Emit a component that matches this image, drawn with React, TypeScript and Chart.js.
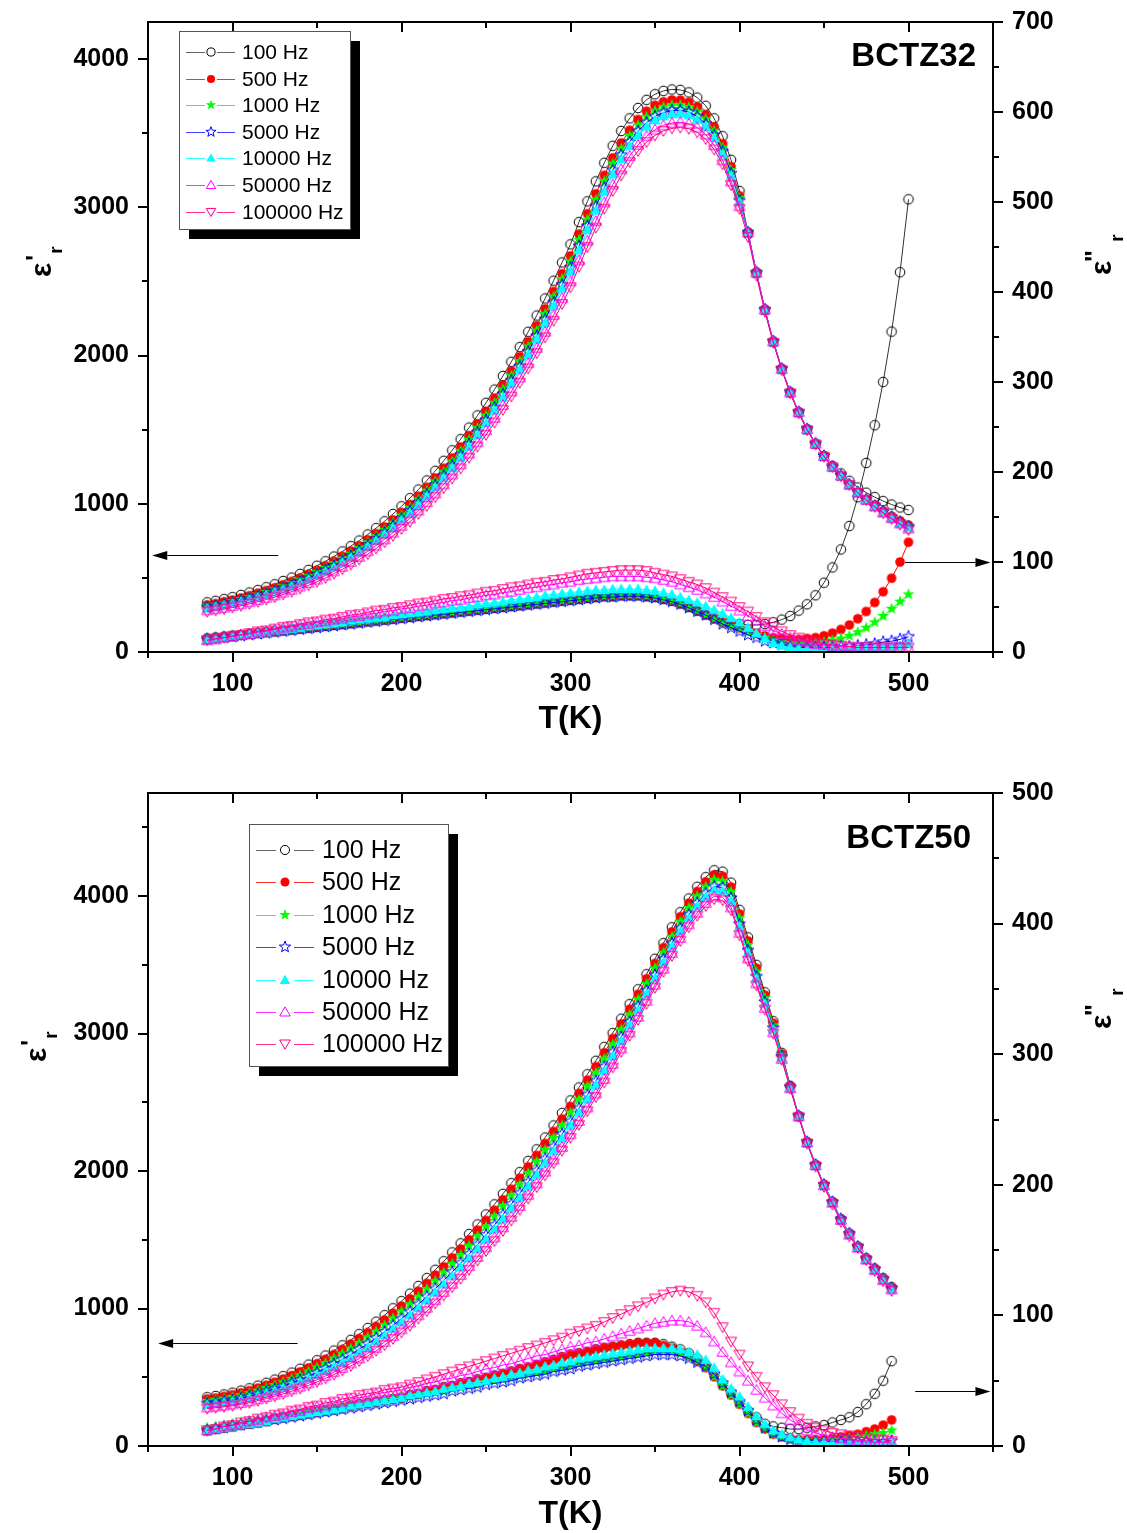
import React, { useEffect, useRef } from 'react';
import { Chart, registerables } from 'chart.js';
Chart.register(...registerables);

const FONT = '"Liberation Sans", Arial, Helvetica, sans-serif';

// ---------------- DATA ----------------
const FREQ_LABELS = ['100 Hz', '500 Hz', '1000 Hz', '5000 Hz', '10000 Hz', '50000 Hz', '100000 Hz'];

const T_TOP = [85,90,95,100,105,110,115,120,125,130,135,140,145,150,155,160,165,170,175,180,185,190,195,200,205,210,215,220,225,230,235,240,245,250,255,260,265,270,275,280,285,290,295,300,305,310,315,320,325,330,335,340,345,350,355,360,365,370,375,380,385,390,395,400,405,410,415,420,425,430,435,440,445,450,455,460,465,470,475,480,485,490,495,500];

// BCTZ32  eps' (left axis)
const TOP_E1_100 = [335,345,357,370,385,401,418,437,457,479,502,527,554,582,612,644,678,714,752,793,836,882,931,983,1038,1096,1157,1222,1290,1361,1436,1514,1596,1681,1770,1862,1958,2057,2160,2270,2385,2505,2628,2750,2900,3040,3175,3300,3415,3515,3600,3670,3725,3763,3785,3795,3792,3775,3740,3685,3600,3480,3320,3110,2830,2560,2310,2095,1910,1752,1618,1503,1405,1322,1255,1205,1155,1110,1075,1045,1018,995,975,958];
const TOP_E1_500 = [318,327,339,351,365,380,397,415,434,454,476,500,526,553,582,613,646,681,717,757,799,844,891,942,995,1051,1111,1174,1240,1309,1383,1459,1539,1623,1710,1800,1895,1992,2093,2201,2314,2432,2552,2672,2819,2957,3091,3216,3333,3434,3520,3592,3648,3688,3712,3724,3723,3709,3677,3624,3543,3429,3274,3078,2830,2560,2310,2095,1910,1752,1618,1503,1405,1322,1250,1190,1130,1077,1030,990,952,917,885,856];
const TOP_E1_1K = [310,319,330,342,356,371,386,404,422,443,464,487,512,539,567,598,630,664,701,740,781,825,872,922,974,1030,1089,1151,1216,1285,1357,1432,1512,1595,1681,1771,1864,1961,2061,2168,2280,2397,2516,2634,2780,2917,3050,3176,3293,3395,3482,3554,3611,3652,3677,3690,3690,3677,3646,3595,3516,3404,3252,3062,2830,2560,2310,2095,1910,1752,1618,1503,1405,1322,1250,1190,1130,1077,1029,987,949,913,880,850];
const TOP_E1_5K = [301,310,321,332,346,360,375,392,410,430,451,474,498,524,552,581,613,647,683,721,762,805,852,900,952,1007,1065,1126,1190,1258,1329,1404,1483,1564,1650,1739,1832,1927,2027,2133,2244,2359,2477,2593,2738,2874,3007,3133,3250,3353,3441,3513,3571,3613,3639,3653,3655,3643,3613,3563,3487,3377,3228,3045,2830,2560,2310,2095,1910,1752,1618,1503,1405,1322,1250,1190,1130,1077,1028,985,946,909,875,845];
const TOP_E1_10K = [295,304,315,326,339,353,368,385,402,422,442,465,488,514,541,571,602,636,671,709,750,793,838,887,938,992,1049,1110,1173,1241,1311,1385,1464,1545,1630,1718,1811,1906,2004,2110,2220,2335,2452,2567,2711,2846,2978,3105,3223,3326,3414,3487,3545,3588,3615,3629,3632,3621,3592,3543,3468,3360,3213,3034,2830,2560,2310,2095,1910,1752,1618,1503,1405,1322,1250,1190,1130,1077,1027,984,944,907,872,841];
const TOP_E1_50K = [281,289,299,310,322,336,350,366,382,401,420,442,465,489,516,544,575,607,642,679,718,760,805,851,901,954,1010,1069,1131,1197,1266,1339,1415,1495,1579,1666,1757,1851,1948,2052,2160,2273,2387,2501,2642,2775,2907,3033,3153,3257,3346,3421,3480,3524,3553,3569,3574,3564,3538,3491,3419,3317,3174,3007,2830,2560,2310,2095,1910,1752,1618,1503,1405,1322,1250,1190,1130,1077,1027,982,941,903,867,832];
const TOP_E1_100K = [272,280,290,300,312,325,339,354,370,388,407,428,450,474,500,528,558,590,624,660,699,740,784,830,879,931,986,1044,1105,1170,1238,1310,1386,1465,1548,1634,1724,1817,1913,2016,2123,2235,2348,2460,2600,2732,2863,2990,3110,3215,3305,3380,3440,3485,3515,3532,3538,3530,3505,3460,3390,3290,3150,2990,2800,2540,2295,2085,1900,1745,1610,1497,1400,1318,1246,1185,1126,1073,1024,978,936,897,859,823];

// BCTZ32  eps'' (right axis)
const TOP_E2_100 = [15,16,17,18,19,20,21,22,23,24,25,26,27,28,29,30,31,32,33,34,35,36,37,38,39,40,41,42,43,44,45,46,47,48,49,50,51,52,53,54,55,56,57,58,59,60,61,62,62,63,63,63,62,61,59,57,54,50,46,42,38,35,33,31,30,30,31,33,36,40,46,53,63,77,94,114,140,172,210,252,300,356,422,503];
const TOP_E2_500 = [15,16,17,18,19,20,21,22,23,24,25,26,27,28,29,30,31,32,33,34,35,36,37,38,39,40,41,42,43,44,45,46,47,48,49,50,51,52,53,54,55,56,57,58,59,60,61,62,62,63,63,63,62,61,59,57,54,50,46,41,37,33,30,27,24,21,18,16,15,14,14,15,16,18,21,25,30,37,45,55,67,82,100,122];
const TOP_E2_1K = [15,16,17,18,19,20,21,22,23,24,25,26,27,28,29,30,31,32,33,34,35,36,37,38,39,40,41,42,43,44,45,46,47,48,49,50,51,52,53,54,55,56,57,58,59,60,61,62,62,63,63,63,62,61,59,57,54,50,46,41,37,33,29,26,22,19,16,13,11,10,9,9,10,11,13,15,18,22,27,33,40,48,56,64];
const TOP_E2_5K = [14,15,16,17,18,19,20,21,22,23,24,25,26,27,28,29,30,31,32,33,34,35,36,37,38,39,40,41,42,43,44,45,46,47,48,49,50,51,52,53,54,55,56,57,58,59,60,61,61,62,62,62,61,60,58,56,53,49,45,41,36,31,27,23,19,16,12,10,8,6,5,5,5,5,5,6,6,7,8,9,11,12,14,17];
const TOP_E2_10K = [14,15,16,18,19,20,21,22,24,25,26,27,29,30,31,32,33,35,36,37,38,39,41,42,43,44,45,47,48,49,50,51,53,54,55,56,58,59,60,61,63,64,65,66,67,68,69,69,70,70,70,70,69,68,66,64,61,58,55,51,47,43,38,33,27,21,15,10,7,5,4,3,3,3,3,3,3,3,4,4,5,6,7,9];
const TOP_E2_50K = [13,14,16,17,19,20,22,23,25,27,28,30,31,33,34,36,37,39,40,42,43,45,46,48,49,51,52,54,55,57,58,60,61,63,64,66,67,69,71,72,74,75,77,78,80,81,82,83,84,84,84,84,83,82,80,78,75,72,69,65,61,56,51,46,40,35,29,24,20,16,13,11,9,8,7,6,6,5,5,5,5,5,5,5];
const TOP_E2_100K = [13,15,16,18,19,21,23,24,26,28,29,31,33,34,36,37,39,41,42,44,46,47,49,50,52,54,55,57,59,60,62,63,65,67,68,70,72,73,75,77,78,80,81,83,85,87,88,89,90,91,91,91,90,88,86,84,81,78,75,71,66,61,56,50,45,39,33,28,23,19,16,13,11,9,8,7,6,5,5,5,5,5,5,5];

const T_BOT = [85,90,95,100,105,110,115,120,125,130,135,140,145,150,155,160,165,170,175,180,185,190,195,200,205,210,215,220,225,230,235,240,245,250,255,260,265,270,275,280,285,290,295,300,305,310,315,320,325,330,335,340,345,350,355,360,365,370,375,380,385,390,395,400,405,410,415,420,425,430,435,440,445,450,455,460,465,470,475,480,485,490];

// BCTZ50  eps' (left axis)
const BOT_E1_100 = [355,364,375,388,403,420,439,460,483,508,534,562,592,624,658,694,732,772,814,858,904,952,1002,1054,1108,1164,1222,1282,1344,1408,1474,1542,1612,1684,1758,1834,1912,1992,2074,2158,2244,2332,2422,2514,2608,2704,2802,2902,3004,3108,3214,3322,3432,3544,3658,3773,3883,3983,4068,4138,4188,4178,4098,3900,3700,3500,3300,3090,2860,2620,2400,2210,2045,1900,1775,1650,1545,1450,1365,1290,1220,1155];
const BOT_E1_500 = [342,350,361,373,387,403,421,442,464,487,512,539,568,599,631,666,703,742,782,825,870,917,966,1018,1071,1126,1183,1243,1304,1368,1433,1500,1570,1641,1715,1791,1868,1948,2030,2114,2200,2288,2378,2470,2565,2661,2760,2861,2964,3070,3177,3286,3398,3510,3625,3740,3850,3949,4034,4104,4154,4145,4066,3870,3673,3476,3280,3076,2852,2617,2400,2210,2045,1900,1775,1650,1545,1450,1364,1289,1218,1152];
const BOT_E1_1K = [328,336,345,357,370,385,403,422,443,465,489,514,542,572,603,637,672,709,749,791,834,880,928,979,1031,1086,1142,1201,1262,1325,1389,1456,1525,1596,1670,1745,1822,1902,1984,2067,2153,2241,2332,2424,2519,2616,2715,2817,2921,3029,3138,3249,3361,3475,3589,3704,3814,3914,3999,4069,4119,4109,4032,3839,3644,3450,3259,3060,2843,2613,2400,2210,2045,1900,1775,1650,1545,1450,1363,1288,1217,1150];
const BOT_E1_5K = [309,316,325,335,347,361,377,396,415,436,458,481,507,536,565,597,630,666,704,744,786,830,877,926,978,1031,1087,1145,1205,1266,1330,1396,1465,1535,1608,1683,1760,1839,1921,2004,2090,2178,2269,2361,2456,2554,2654,2758,2864,2974,3085,3198,3312,3426,3542,3657,3766,3865,3950,4020,4070,4062,3986,3796,3605,3416,3230,3040,2832,2609,2400,2210,2045,1900,1775,1650,1545,1449,1362,1287,1215,1148];
const BOT_E1_10K = [299,306,315,324,336,350,365,383,402,422,443,466,491,518,547,577,610,645,682,721,763,806,853,901,952,1005,1061,1118,1177,1238,1302,1368,1436,1506,1578,1653,1730,1809,1890,1974,2060,2148,2238,2331,2426,2524,2625,2729,2836,2947,3060,3173,3288,3403,3519,3634,3743,3842,3927,3997,4047,4039,3964,3776,3586,3399,3216,3030,2826,2607,2400,2210,2045,1900,1775,1650,1544,1448,1360,1285,1213,1145];
const BOT_E1_50K = [280,287,294,302,313,325,340,356,374,392,412,432,456,482,509,537,568,601,637,674,714,756,801,849,898,951,1005,1061,1120,1180,1243,1308,1375,1445,1517,1591,1667,1746,1827,1910,1996,2084,2175,2268,2364,2463,2564,2670,2779,2892,3007,3122,3238,3355,3471,3586,3695,3794,3879,3949,3999,3991,3918,3733,3547,3365,3187,3009,2815,2602,2398,2207,2042,1896,1770,1644,1538,1443,1356,1279,1206,1138];
const BOT_E1_100K = [272,278,285,293,303,315,329,345,362,379,398,418,441,466,492,520,550,582,617,654,693,734,779,826,875,927,981,1037,1095,1155,1217,1282,1349,1418,1490,1564,1640,1719,1800,1883,1969,2057,2148,2241,2337,2436,2538,2644,2754,2868,2984,3100,3217,3334,3450,3565,3674,3773,3858,3928,3978,3970,3898,3715,3530,3350,3175,3000,2810,2600,2395,2200,2033,1885,1757,1630,1525,1440,1352,1272,1198,1128];

// BCTZ50  eps'' (right axis)
const BOT_E2_100 = [12,13,14,15,16,17,18,19,21,22,23,24,25,26,27,28,29,31,32,33,34,35,36,37,39,40,42,43,45,46,48,49,51,52,54,55,57,59,60,62,64,66,68,70,71,72,74,75,76,77,78,79,79,79,78,76,74,71,67,62,55,48,41,34,27,22,17,15,14,13,13,14,15,16,18,20,22,26,32,40,50,65];
const BOT_E2_500 = [12,13,14,15,16,17,18,19,21,22,23,24,25,26,27,28,29,31,32,33,34,35,36,37,39,40,42,43,45,46,48,49,51,52,54,55,57,59,60,62,64,66,68,70,71,72,74,75,76,77,78,79,79,79,77,75,72,69,65,60,53,46,39,32,25,18,13,9,7,6,5,5,5,5,6,7,8,9,11,13,16,20];
const BOT_E2_1K = [14,15,16,17,18,19,20,21,22,23,24,25,26,27,28,29,30,31,32,33,34,35,36,37,38,39,40,41,42,44,45,46,47,49,50,51,52,54,55,56,57,59,60,61,63,64,65,66,67,68,69,70,71,72,72,72,71,68,65,60,53,46,39,32,25,18,13,9,7,5,5,4,4,4,5,5,6,7,8,9,10,12];
const BOT_E2_5K = [12,13,14,15,16,17,18,19,20,21,22,23,24,25,26,27,28,29,30,31,32,33,34,35,36,37,38,39,40,42,43,44,45,47,48,49,50,52,53,54,55,57,58,59,61,62,63,64,65,66,67,68,69,70,70,70,69,67,64,61,55,48,41,34,27,20,14,10,7,5,4,3,3,3,3,3,3,3,3,3,3,4];
const BOT_E2_10K = [12,13,14,15,16,17,18,19,21,22,23,24,25,26,27,28,29,31,32,33,34,35,36,37,39,40,41,42,44,45,46,48,49,50,52,53,55,56,58,59,61,62,64,65,67,68,69,70,71,72,73,74,75,75,75,75,74,72,70,66,60,51,44,38,30,23,17,12,9,7,5,4,3,3,2,2,2,2,2,2,2,2];
const BOT_E2_50K = [12,13,15,16,17,19,20,22,23,24,26,27,29,30,31,33,34,36,37,38,40,41,42,43,45,46,48,49,51,52,54,55,57,59,60,62,63,65,67,69,70,72,74,76,77,79,80,82,84,86,88,90,92,94,95,96,96,95,92,87,80,72,64,57,50,43,37,31,25,20,16,12,10,8,7,6,5,4,4,3,3,3];
const BOT_E2_100K = [12,13,15,16,18,19,21,22,24,25,27,28,30,31,33,34,36,37,39,40,41,43,44,45,47,49,51,53,55,57,59,61,63,65,67,69,71,73,75,77,79,81,83,86,88,90,92,95,98,101,104,107,110,113,116,118,119,118,115,110,102,91,80,70,61,53,45,39,32,26,21,17,14,12,10,9,8,7,6,5,5,4];

// ---------------- STYLE ----------------
const COLORS = ['#000000', '#ff0000', '#00ff00', '#0000ff', '#00ffff', '#ff00ff', '#ff0080'];
const LINE_COLORS = ['#333333', '#ff0000', '#00ff00', '#0000ff', '#00ffff', '#ff00ff', '#ff0080'];
const LEGEND_LINE_COLORS = ['#666666', '#ff3030', '#30ff30', '#4040ff', '#30ffff', '#ff30ff', '#ff3090'];
type Kind = 'circleOpen' | 'circleFill' | 'starFill' | 'starOpen' | 'triFill' | 'triOpen' | 'triDownOpen';
const KINDS: Kind[] = ['circleOpen', 'circleFill', 'starFill', 'starOpen', 'triFill', 'triOpen', 'triDownOpen'];

function makeMarker(kind: Kind, color: string, sc = 1): HTMLCanvasElement {
  const s = 18;
  const c = document.createElement('canvas');
  c.width = s; c.height = s;
  const ctx = c.getContext('2d')!;
  ctx.translate(s / 2, s / 2);
  ctx.strokeStyle = color; ctx.fillStyle = color; ctx.lineWidth = 1;
  ctx.beginPath();
  if (kind.startsWith('circle')) {
    ctx.arc(0, 0, 4.8 * sc, 0, Math.PI * 2);
  } else if (kind.startsWith('star')) {
    const R = 6.3 * sc, r = 2.6 * sc;
    for (let i = 0; i < 10; i++) {
      const a = -Math.PI / 2 + (i * Math.PI) / 5;
      const rr = i % 2 ? r : R;
      const x = rr * Math.cos(a), y = rr * Math.sin(a);
      if (i) ctx.lineTo(x, y); else ctx.moveTo(x, y);
    }
    ctx.closePath();
  } else if (kind === 'triDownOpen') {
    ctx.moveTo(-5.6 * sc, -4.2 * sc); ctx.lineTo(5.6 * sc, -4.2 * sc); ctx.lineTo(0, 5.4 * sc); ctx.closePath();
  } else {
    ctx.moveTo(0, -5.4 * sc); ctx.lineTo(5.6 * sc, 4.2 * sc); ctx.lineTo(-5.6 * sc, 4.2 * sc); ctx.closePath();
  }
  if (kind.endsWith('Fill')) ctx.fill(); else ctx.stroke();
  return c;
}

interface PanelCfg {
  top: number; height: number; padTop: number; xHeight: number;
  T: number[]; e1: number[][]; e2: number[][];
  yMax: number; yTicks: number[]; yMinorMax: number;
  y1Max: number; y1Ticks: number[];
  legend: { x: number; y: number; w: number; h: number; row0: number; dy: number; lx1: number; lx2: number; mx: number; gap: number; tx: number; font: number; msc: number };
  title: { text: string; x: number; y: number };
  xTitleY: number;
  epsL: [number, number]; epsR: [number, number];
  arrowL: { x1: number; x2: number; y: number };
  arrowR: { x1: number; x2: number; y: number };
}

function drawEps(ctx: CanvasRenderingContext2D, cx: number, cy: number, primes: string, pOff: [number, number], rOff: [number, number]) {
  ctx.save();
  ctx.translate(cx, cy);
  ctx.rotate(-Math.PI / 2);
  ctx.fillStyle = '#000';
  ctx.textAlign = 'center';
  ctx.textBaseline = 'alphabetic';
  ctx.font = `bold 30px ${FONT}`;
  ctx.fillText('ε', 0, 8);
  ctx.font = `bold 26px ${FONT}`;
  ctx.fillText(primes, pOff[0], pOff[1]);
  ctx.font = `bold 19px ${FONT}`;
  ctx.fillText('r', rOff[0], rOff[1]);
  ctx.restore();
}

function drawArrow(ctx: CanvasRenderingContext2D, x1: number, x2: number, y: number) {
  const dir = Math.sign(x2 - x1);
  const head = 15, hw = 4.5;
  ctx.beginPath();
  ctx.moveTo(x1, y); ctx.lineTo(x2 - dir * head, y);
  ctx.stroke();
  ctx.beginPath();
  ctx.moveTo(x2, y); ctx.lineTo(x2 - dir * head, y - hw); ctx.lineTo(x2 - dir * head, y + hw); ctx.closePath();
  ctx.fill();
}

function Panel({ cfg }: { cfg: PanelCfg }) {
  const ref = useRef<HTMLCanvasElement>(null);
  useEffect(() => {
    const markers = KINDS.map((k, i) => makeMarker(k, COLORS[i]));
    const legendMarkers = KINDS.map((k, i) => makeMarker(k, COLORS[i], cfg.legend.msc));
    const datasets: any[] = [];
    cfg.e2.forEach((vals, i) => {
      datasets.push({
        label: FREQ_LABELS[i] + " e''",
        data: cfg.T.map((t, k) => ({ x: t, y: vals[k] })),
        yAxisID: 'y1', borderColor: LINE_COLORS[i], backgroundColor: COLORS[i], borderWidth: 1,
        pointStyle: markers[i], pointRadius: 5, order: 20 - i, tension: 0,
      });
    });
    cfg.e1.forEach((vals, i) => {
      datasets.push({
        label: FREQ_LABELS[i] + " e'",
        data: cfg.T.map((t, k) => ({ x: t, y: vals[k] })),
        yAxisID: 'y', borderColor: LINE_COLORS[i], backgroundColor: COLORS[i], borderWidth: 1,
        pointStyle: markers[i], pointRadius: 5, order: 10 - i, tension: 0,
      });
    });

    const tickFont = { family: FONT, size: 25, weight: 'bold' as const };
    const zeroPad = (s: any) => { s.paddingTop = 0; s.paddingBottom = 0; s.paddingLeft = 0; s.paddingRight = 0; };
    const deco = {
      id: 'deco',
      afterDraw(chart: any) {
        const { ctx, chartArea: ca, scales } = chart;
        const xs = scales.x, ys = scales.y, y1 = scales.y1;
        ctx.save();
        ctx.strokeStyle = '#000'; ctx.fillStyle = '#000'; ctx.lineWidth = 2;
        ctx.strokeRect(ca.left, ca.top, ca.right - ca.left, ca.bottom - ca.top);
        const line = (a: number, b: number, c: number, d: number) => { ctx.beginPath(); ctx.moveTo(a, b); ctx.lineTo(c, d); ctx.stroke(); };
        for (let v = 50; v <= 550; v += 50) {
          const px = Math.round(xs.getPixelForValue(v));
          const L = v % 100 === 0 ? 10 : 6;
          line(px, ca.bottom, px, ca.bottom + L);
          if (v > 50 && v < 550) line(px, ca.top, px, ca.top + L);
        }
        for (let v = 0; v <= cfg.yMinorMax; v += 500) {
          const py = Math.round(ys.getPixelForValue(v));
          const L = v % 1000 === 0 ? 10 : 6;
          line(ca.left - L, py, ca.left, py);
        }
        for (let v = 0; v <= cfg.y1Max; v += 50) {
          const py = Math.round(y1.getPixelForValue(v));
          const L = v % 100 === 0 ? 10 : 6;
          line(ca.right, py, ca.right + L, py);
        }
        // arrows
        ctx.lineWidth = 1;
        const al = cfg.arrowL, ar = cfg.arrowR;
        drawArrow(ctx, xs.getPixelForValue(al.x1), xs.getPixelForValue(al.x2), Math.round(ys.getPixelForValue(al.y)) + 0.5);
        drawArrow(ctx, xs.getPixelForValue(ar.x1), xs.getPixelForValue(ar.x2), Math.round(y1.getPixelForValue(ar.y)) + 0.5);
        // legend
        const L = cfg.legend;
        ctx.fillStyle = '#000';
        ctx.fillRect(L.x + 10, L.y + 10, L.w, L.h);
        ctx.fillStyle = '#fff';
        ctx.fillRect(L.x, L.y, L.w, L.h);
        ctx.strokeStyle = '#555'; ctx.lineWidth = 1;
        ctx.strokeRect(L.x + 0.5, L.y + 0.5, L.w, L.h);
        ctx.font = `${L.font}px ${FONT}`;
        ctx.textAlign = 'left'; ctx.textBaseline = 'middle';
        for (let i = 0; i < 7; i++) {
          const y = Math.round(L.row0 + i * L.dy) + 0.5;
          ctx.strokeStyle = LEGEND_LINE_COLORS[i];
          line(L.lx1, y, L.mx - L.gap, y);
          line(L.mx + L.gap, y, L.lx2, y);
          ctx.drawImage(legendMarkers[i], L.mx - 9, y - 9.5);
          ctx.fillStyle = '#000';
          ctx.fillText(FREQ_LABELS[i], L.tx, y + 1);
        }
        // title texts
        ctx.fillStyle = '#000';
        ctx.font = `bold 33px ${FONT}`;
        ctx.textAlign = 'right'; ctx.textBaseline = 'middle';
        ctx.fillText(cfg.title.text, cfg.title.x, cfg.title.y);
        ctx.textAlign = 'center';
        ctx.font = `bold 32px ${FONT}`;
        ctx.fillText('T(K)', (ca.left + ca.right) / 2, cfg.xTitleY);
        drawEps(ctx, cfg.epsL[0], cfg.epsL[1], "'", [12, 1], [20, 19]);
        drawEps(ctx, cfg.epsR[0], cfg.epsR[1], '"', [12, 0], [30, 20]);
        ctx.restore();
      },
    };

    const chart = new Chart(ref.current!, {
      type: 'line',
      data: { datasets },
      options: {
        responsive: false,
        animation: false,
        devicePixelRatio: 1,
        events: [],
        layout: { padding: { top: cfg.padTop, left: 0, right: 0, bottom: 0 } },
        plugins: { legend: { display: false }, tooltip: { enabled: false } },
        scales: {
          x: {
            type: 'linear', position: 'bottom', min: 50, max: 550,
            afterBuildTicks: (s: any) => { s.ticks = [100, 200, 300, 400, 500].map((v) => ({ value: v })); },
            ticks: { font: tickFont, color: '#000', padding: 17, maxRotation: 0, callback: (v: any) => String(v) },
            grid: { display: false, drawTicks: false }, border: { display: false },
            afterFit: (s: any) => { s.height = cfg.xHeight; zeroPad(s); },
          },
          y: {
            type: 'linear', position: 'left', min: 0, max: cfg.yMax,
            afterBuildTicks: (s: any) => { s.ticks = cfg.yTicks.map((v) => ({ value: v })); },
            ticks: { font: tickFont, color: '#000', padding: 19, callback: (v: any) => String(v) },
            grid: { display: false, drawTicks: false }, border: { display: false },
            afterFit: (s: any) => { s.width = 148; zeroPad(s); },
          },
          y1: {
            type: 'linear', position: 'right', min: 0, max: cfg.y1Max,
            afterBuildTicks: (s: any) => { s.ticks = cfg.y1Ticks.map((v) => ({ value: v })); },
            ticks: { font: tickFont, color: '#000', padding: 19, callback: (v: any) => String(v) },
            grid: { display: false, drawTicks: false }, border: { display: false },
            afterFit: (s: any) => { s.width = 134; zeroPad(s); },
          },
        },
      } as any,
      plugins: [deco],
    });
    return () => chart.destroy();
  }, []);
  return (
    <canvas
      ref={ref}
      width={1127}
      height={cfg.height}
      style={{ position: 'absolute', left: 0, top: cfg.top, width: 1127, height: cfg.height }}
    />
  );
}

const TOP_CFG: PanelCfg = {
  top: 0, height: 760, padTop: 22, xHeight: 108,
  T: T_TOP,
  e1: [TOP_E1_100, TOP_E1_500, TOP_E1_1K, TOP_E1_5K, TOP_E1_10K, TOP_E1_50K, TOP_E1_100K],
  e2: [TOP_E2_100, TOP_E2_500, TOP_E2_1K, TOP_E2_5K, TOP_E2_10K, TOP_E2_50K, TOP_E2_100K],
  yMax: 4250, yTicks: [0, 1000, 2000, 3000, 4000], yMinorMax: 4000,
  y1Max: 700, y1Ticks: [0, 100, 200, 300, 400, 500, 600, 700],
  legend: { x: 179, y: 31, w: 171, h: 198, row0: 52, dy: 26.6, lx1: 186, lx2: 235, mx: 211, gap: 6, tx: 242, font: 21, msc: 0.85 },
  title: { text: 'BCTZ32', x: 976, y: 57 },
  xTitleY: 719,
  epsL: [43, 270], epsR: [1103, 268],
  arrowL: { x1: 127, x2: 52.5, y: 655 },
  arrowR: { x1: 498, x2: 548.5, y: 100 },
};

const BOT_CFG: PanelCfg = {
  top: 770, height: 763, padTop: 23, xHeight: 87,
  T: T_BOT,
  e1: [BOT_E1_100, BOT_E1_500, BOT_E1_1K, BOT_E1_5K, BOT_E1_10K, BOT_E1_50K, BOT_E1_100K],
  e2: [BOT_E2_100, BOT_E2_500, BOT_E2_1K, BOT_E2_5K, BOT_E2_10K, BOT_E2_50K, BOT_E2_100K],
  yMax: 4750, yTicks: [0, 1000, 2000, 3000, 4000], yMinorMax: 4500,
  y1Max: 500, y1Ticks: [0, 100, 200, 300, 400, 500],
  legend: { x: 249, y: 54, w: 199, h: 242, row0: 80, dy: 32.4, lx1: 256, lx2: 314, mx: 285, gap: 9, tx: 322, font: 25, msc: 0.95 },
  title: { text: 'BCTZ50', x: 971, y: 69 },
  xTitleY: 744,
  epsL: [38, 285], epsR: [1103, 252],
  arrowL: { x1: 138.5, x2: 56, y: 749 },
  arrowR: { x1: 504, x2: 548.5, y: 42 },
};

export default function App() {
  return (
    <div style={{ position: 'absolute', left: 0, top: 0, width: 1127, height: 1533, background: '#fff', overflow: 'hidden' }}>
      <Panel cfg={TOP_CFG} />
      <Panel cfg={BOT_CFG} />
    </div>
  );
}
